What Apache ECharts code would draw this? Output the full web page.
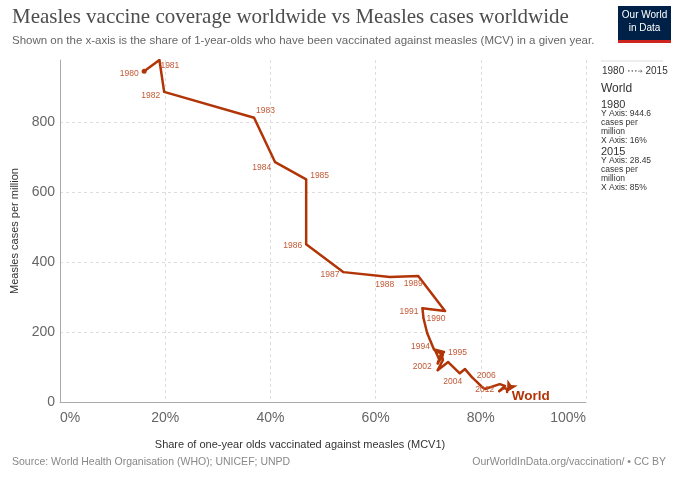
<!DOCTYPE html>
<html>
<head>
<meta charset="utf-8">
<script src="https://cdn.jsdelivr.net/npm/echarts@6/dist/echarts.min.js"></script>
<style>
  html, body { margin: 0; padding: 0; background: #fff; }
  #chart { width: 680px; height: 480px; }
</style>
</head>
<body>
<div id="chart"></div>
<script>
// data
var years = [1980, 1981, 1982, 1983, 1984, 1985, 1986, 1987, 1988, 1989,
    1990, 1991, 1992, 1993, 1994, 1995, 1996, 1997, 1998, 1999,
    2000, 2001, 2002, 2003, 2004, 2005, 2006, 2007, 2008, 2009,
    2010, 2011, 2012, 2013, 2014, 2015];
// share of 1-year-olds vaccinated (MCV1), %
var coverage = [16, 18.9, 19.8, 36.9, 40.9, 46.8, 46.8, 53.9, 62.7, 68.1,
    73.2, 68.9, 69.1, 69.8, 71.1, 73.0, 72.0, 71.3, 72.8, 71.8,
    72.5, 72.8, 71.8, 73.8, 76.0, 77.0, 78.3, 79.3, 80.2, 80.8,
    83.6, 84.6, 83.5, 84.4, 85.0, 85];
// measles cases per million
var casesPerMillion = [944.6, 977, 886, 812, 685, 636, 451, 371, 357, 360,
    260, 268, 240, 197, 150, 143, 125, 148, 135, 110,
    140, 120, 91, 114, 82, 94, 71, 57, 43, 37,
    51, 46, 31, 40, 37, 28.45];
var labeledYears = [1980, 1981, 1982, 1983, 1984, 1985, 1986, 1987, 1988, 1989,
    1990, 1991, 1994, 1995, 2002, 2004, 2006, 2012];
var entityName = 'World';
var xTickMax = 100, xTickStep = 20;
var yTickMax = 977, yTickStep = 200;

var lineColor = '#b13507';
var labelColor = '#c25a36';

// where each year label sits relative to its point
var labelPlace = {
    1980: {position: 'left', offset: [0, 2]},
    1981: {position: 'right', offset: [-3, 6]},
    1982: {position: 'left', offset: [0, 4]},
    1983: {position: 'right', offset: [-2, -7]},
    1984: {position: 'left', offset: [0, 5]},
    1985: {position: 'right', offset: [0, -4]},
    1986: {position: 'left', offset: [0, 2]},
    1987: {position: 'left', offset: [0, 3]},
    1988: {position: 'bottom', offset: [-5, -1]},
    1989: {position: 'bottom', offset: [-5, -1]},
    1990: {position: 'bottom', offset: [-9, -1]},
    1991: {position: 'left', offset: [0, 3]},
    1994: {position: 'left', offset: [0, -3]},
    1995: {position: 'right', offset: [0, 1]},
    2002: {position: 'left', offset: [-2, -3]},
    2004: {position: 'bottom', offset: [-7, 0]},
    2006: {position: 'right', offset: [1, -1]},
    2012: {position: 'left', offset: [-1, -1]}
};

var chart = echarts.init(document.getElementById('chart'), null, {renderer: 'canvas'});

var seriesData = years.map(function (yr, i) {
    var item = {value: [coverage[i], casesPerMillion[i]]};
    if (labeledYears.indexOf(yr) >= 0) {
        var p = labelPlace[yr];
        item.label = {show: true, formatter: String(yr), position: p.position, offset: p.offset};
    }
    if (i === 0) {
        item.symbol = 'circle';
        item.symbolSize = 5;
    }
    if (i === years.length - 1) {
        item.symbol = 'arrow';
        item.symbolSize = [9, 11];
        item.symbolRotate = 150;
        item.label = {
            show: true, formatter: entityName, position: 'right', offset: [-9, 9],
            color: lineColor, fontSize: 13.5, fontWeight: 'bold', distance: 3
        };
    }
    return item;
});

var sans = '"Liberation Sans", Arial, sans-serif';

var option = {
    animation: false,
    textStyle: {fontFamily: sans},
    grid: {left: 60, right: 94, top: 60, bottom: 78},
    xAxis: {
        type: 'value',
        min: 0,
        max: xTickMax,
        interval: xTickStep,
        axisLine: {show: true, lineStyle: {color: '#aaa', width: 1}},
        axisTick: {show: false},
        axisLabel: {
            color: '#666', fontSize: 14, margin: 9,
            formatter: '{value}%',
            alignMinLabel: 'left', alignMaxLabel: 'right'
        },
        splitLine: {show: true, showMinLine: false, lineStyle: {color: '#ddd', type: [3, 3]}}
    },
    yAxis: {
        type: 'value',
        min: 0,
        max: yTickMax,
        interval: yTickStep,
        name: 'Measles cases per million',
        nameLocation: 'middle',
        nameGap: 38,
        nameTextStyle: {color: '#333', fontSize: 11},
        axisLine: {show: true, lineStyle: {color: '#aaa', width: 1}},
        axisTick: {show: false},
        axisLabel: {color: '#666', fontSize: 14, margin: 5, showMaxLabel: false},
        splitLine: {show: true, showMinLine: false, showMaxLine: false, lineStyle: {color: '#ddd', type: [3, 3]}}
    },
    series: [{
        type: 'line',
        data: seriesData,
        symbol: 'circle',
        symbolSize: 2,
        itemStyle: {color: lineColor},
        lineStyle: {color: lineColor, width: 2.5, join: 'round', cap: 'round'},
        label: {show: false, color: labelColor, fontSize: 8.5, distance: 3},
        z: 3
    }],
    graphic: [
        {
            type: 'text', left: 12, top: 7,
            style: {
                text: 'Measles vaccine coverage worldwide vs Measles cases worldwide',
                fontFamily: '"Liberation Serif", "DejaVu Serif", serif', fontSize: 21, fill: '#4d4d4d'
            }
        },
        {
            type: 'text', left: 12, top: 35,
            style: {
                text: 'Shown on the x-axis is the share of 1-year-olds who have been vaccinated against measles (MCV) in a given year.',
                fontFamily: sans, fontSize: 11.5, fill: '#666'
            }
        },
        // logo
        {type: 'rect', shape: {x: 618, y: 6, width: 53, height: 34}, style: {fill: '#002147'}},
        {type: 'rect', shape: {x: 618, y: 40, width: 53, height: 3}, style: {fill: '#ce261e'}},
        {
            type: 'text', x: 644.5, y: 10,
            style: {text: 'Our World', fontFamily: sans, fontSize: 10, fill: '#fff', align: 'center'}
        },
        {
            type: 'text', x: 644.5, y: 23,
            style: {text: 'in Data', fontFamily: sans, fontSize: 10, fill: '#fff', align: 'center'}
        },
        // x axis title
        {
            type: 'text', x: 300, y: 439,
            style: {
                text: 'Share of one-year olds vaccinated against measles (MCV1)',
                fontFamily: sans, fontSize: 11, fill: '#333', align: 'center'
            }
        },
        // right side panel
        {type: 'line', shape: {x1: 601, y1: 61, x2: 663, y2: 61}, style: {stroke: '#ddd', lineWidth: 1}},
        {
            type: 'text', x: 602, y: 66,
            style: {
                text: '1980 {c|\u2022\u2022\u2022\u2794} 2015',
                fontFamily: sans, fontSize: 10, fill: '#333',
                rich: {c: {fontFamily: '"DejaVu Sans"', fontSize: 6, fill: '#777'}}
            }
        },
        {type: 'text', x: 601, y: 83, style: {text: 'World', fontFamily: sans, fontSize: 12, fill: '#333'}},
        {type: 'text', x: 601, y: 99, style: {text: '1980', fontFamily: sans, fontSize: 11, fill: '#333'}},
        {
            type: 'text', x: 601, y: 109,
            style: {
                text: 'Y Axis: 944.6\ncases per\nmillion\nX Axis: 16%',
                fontFamily: sans, fontSize: 8.5, lineHeight: 9, fill: '#333'
            }
        },
        {type: 'text', x: 601, y: 146, style: {text: '2015', fontFamily: sans, fontSize: 11, fill: '#333'}},
        {
            type: 'text', x: 601, y: 156,
            style: {
                text: 'Y Axis: 28.45\ncases per\nmillion\nX Axis: 85%',
                fontFamily: sans, fontSize: 8.5, lineHeight: 9, fill: '#333'
            }
        },
        // footer
        {
            type: 'text', left: 12, top: 457,
            style: {text: 'Source: World Health Organisation (WHO); UNICEF; UNPD', fontFamily: sans, fontSize: 10.5, fill: '#888'}
        },
        {
            type: 'text', right: 14, top: 457,
            style: {text: 'OurWorldInData.org/vaccination/ \u2022 CC BY', fontFamily: sans, fontSize: 10.5, fill: '#888'}
        }
    ]
};

chart.setOption(option);
</script>
</body>
</html>
